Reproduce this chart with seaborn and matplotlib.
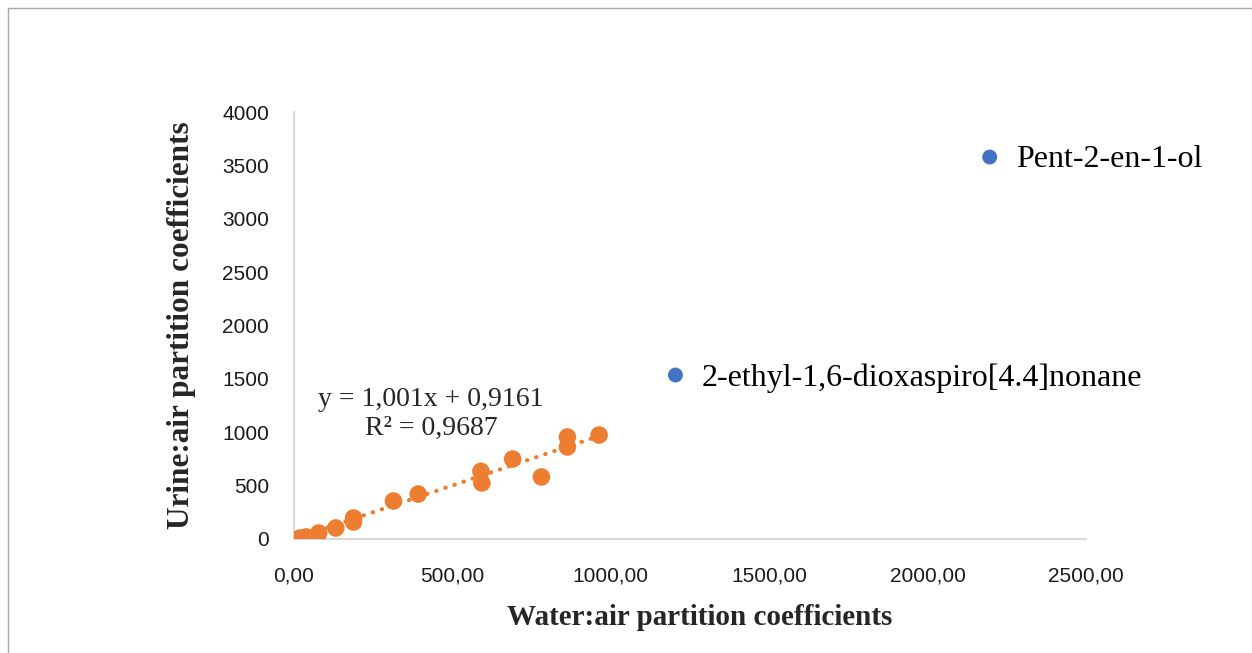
import matplotlib
matplotlib.use("Agg")
import matplotlib.pyplot as plt
from matplotlib.ticker import FuncFormatter, MultipleLocator
from matplotlib.lines import Line2D
import numpy as np
import pandas as pd
import seaborn as sns

# data
water_air = [19, 38, 78, 132, 188, 188, 314, 392, 590, 593, 690, 781, 863, 863, 963]
urine_air = [9, 19, 56, 103, 159, 197, 356, 421, 634, 525, 749, 581, 956, 862, 974]

outlier_names = ["Pent-2-en-1-ol", "2-ethyl-1,6-dioxaspiro[4.4]nonane"]
outlier_x = [2196, 1204]
outlier_y = [3578, 1536]

# trendline shown in the chart
slope = 1.001
intercept = 0.9161
eq_text = "y = 1,001x + 0,9161\nR² = 0,9687"

sns.set_theme(style="white")
plt.rcParams["font.family"] = ["Liberation Serif", "DejaVu Serif"]

fig = plt.figure(figsize=(12.52, 6.53), dpi=100)
ax = fig.add_axes([294 / 1252, 114 / 653, (1086 - 294) / 1252, (539 - 112) / 653])

df = pd.DataFrame({"x": water_air, "y": urine_air})
sns.scatterplot(data=df, x="x", y="y", color="#ED7D31", s=160, edgecolor="none", ax=ax, zorder=3)

# dotted linear trendline
tx = np.array([min(water_air), max(water_air)])
trend = pd.DataFrame({"x": tx, "y": slope * tx + intercept})
sns.lineplot(data=trend, x="x", y="y", color="#ED7D31", linewidth=3,
             linestyle=(0, (0.1, 2.2)), dash_capstyle="round", ax=ax, zorder=2)

out = pd.DataFrame({"x": outlier_x, "y": outlier_y, "name": outlier_names})
sns.scatterplot(data=out, x="x", y="y", color="#4472C4", s=115, edgecolor="none", ax=ax, zorder=3)
for _, r in out.iterrows():
    ax.annotate(r["name"], (r["x"], r["y"]), xytext=(19, -2), textcoords="offset points",
                fontsize=23, va="center", ha="left", color="black", annotation_clip=False)

ax.text(433, 1171, eq_text, fontsize=20, ha="center", va="center", linespacing=1.2,
        multialignment="center")

ax.set_xlim(0, 2500)
ax.set_ylim(0, 4000)
ax.xaxis.set_major_locator(MultipleLocator(500))
ax.yaxis.set_major_locator(MultipleLocator(500))
ax.xaxis.set_major_formatter(FuncFormatter(lambda v, p: f"{v:.2f}".replace(".", ",")))
ax.yaxis.set_major_formatter(FuncFormatter(lambda v, p: f"{v:.0f}"))
for lab in ax.get_xticklabels() + ax.get_yticklabels():
    lab.set_fontfamily("Liberation Sans")
    lab.set_fontsize(15)
    lab.set_color("#1a1a1a")
ax.tick_params(axis="both", length=0)
ax.tick_params(axis="x", pad=20)
ax.tick_params(axis="y", pad=18)

for s in ["top", "right"]:
    ax.spines[s].set_visible(False)
for s in ["left", "bottom"]:
    ax.spines[s].set_color("#D9D9D9")
    ax.spines[s].set_linewidth(1.5)

ax.set_xlabel("Water:air partition coefficients", fontsize=21, fontweight="bold", va="center")
ax.set_ylabel("Urine:air partition coefficients", fontsize=22.5, fontweight="bold", va="center")
ax.xaxis.set_label_coords(0.5126, -0.183)
ax.yaxis.set_label_coords(-0.1415, 0.501)

# chart frame (top and left edges visible)
fig.add_artist(Line2D([8 / 1252, 1.0], [1 - 8 / 653, 1 - 8 / 653], transform=fig.transFigure,
                      color="#A6A6A6", linewidth=1))
fig.add_artist(Line2D([8 / 1252, 8 / 1252], [0, 1 - 8 / 653], transform=fig.transFigure,
                      color="#A6A6A6", linewidth=1))

fig.savefig("out.png", dpi=100)
